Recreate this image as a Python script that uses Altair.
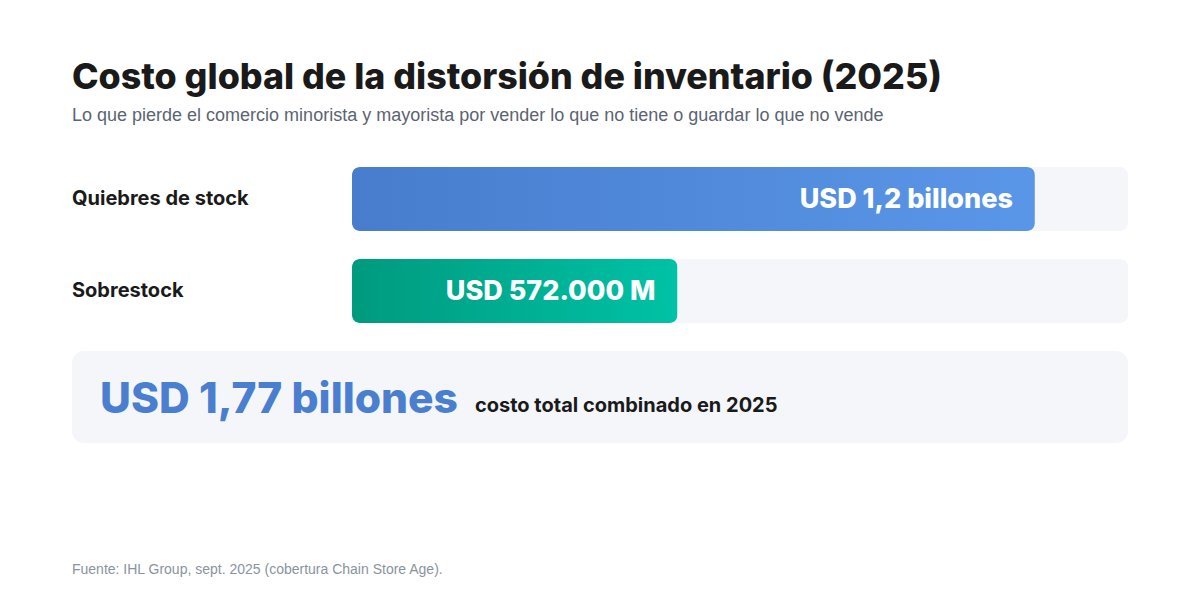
import altair as alt
import pandas as pd

categories = ["Quiebres de stock", "Sobrestock"]
values = [1.2, 0.572]  # USD billones (trillions)
value_labels = ["USD 1,2 billones", "USD 572.000 M"]
total_value = 1.77
total_label = "USD 1,77 billones"
total_caption = "costo total combinado en 2025"
title_text = "Costo global de la distorsión de inventario (2025)"
subtitle_text = "Lo que pierde el comercio minorista y mayorista por vender lo que no tiene o guardar lo que no vende"
source_text = "Fuente: IHL Group, sept. 2025 (cobertura Chain Store Age)."

x_max = values[0] / 0.88

df = pd.DataFrame({"cat": categories, "value": values, "label": value_labels, "track": [x_max] * len(categories)})

HEAD = "Inter"
BODY = "Liberation Sans"

xs = alt.Scale(domain=[0, x_max], range=[280, 1056], zero=True, nice=False)
ys = alt.Scale(type="point", domain=categories, range=[49, 141], padding=0)

base = alt.Chart(df)

track = base.mark_bar(size=64, cornerRadius=8, color="#f4f6fa").encode(
    x=alt.X("track:Q", scale=xs, axis=None),
    y=alt.Y("cat:N", scale=ys, axis=None),
)

grad_blue = alt.Gradient(
    gradient="linear",
    stops=[alt.GradientStop(color="#487dcd", offset=0), alt.GradientStop(color="#5a96e8", offset=1)],
    x1=0, x2=1, y1=0, y2=0,
)
grad_teal = alt.Gradient(
    gradient="linear",
    stops=[alt.GradientStop(color="#009a7e", offset=0), alt.GradientStop(color="#00c2a6", offset=1)],
    x1=0, x2=1, y1=0, y2=0,
)

bar1 = base.transform_filter(alt.datum.cat == categories[0]).mark_bar(size=64, cornerRadius=8, color=grad_blue).encode(
    x=alt.X("value:Q", scale=xs, axis=None),
    y=alt.Y("cat:N", scale=ys, axis=None),
)
bar2 = base.transform_filter(alt.datum.cat == categories[1]).mark_bar(size=64, cornerRadius=8, color=grad_teal).encode(
    x=alt.X("value:Q", scale=xs, axis=None),
    y=alt.Y("cat:N", scale=ys, axis=None),
)

vlabels = base.mark_text(align="right", baseline="middle", dx=-22, dy=1, font=HEAD, fontWeight=800, fontSize=27, color="white").encode(
    x=alt.X("value:Q", scale=xs, axis=None),
    y=alt.Y("cat:N", scale=ys, axis=None),
    text="label:N",
)

clabels = base.mark_text(align="left", baseline="middle", font=HEAD, fontWeight=700, fontSize=20, color="#1a1a1a").encode(
    x=alt.value(0),
    y=alt.Y("cat:N", scale=ys, axis=None),
    text="cat:N",
)

sdf = pd.DataFrame({"total": [total_value], "tl": [total_label], "cap": [total_caption], "src": [source_text]})
sbase = alt.Chart(sdf)

box = sbase.mark_rect(cornerRadius=12, color="#f4f6fa").encode(
    x=alt.value(0), x2=alt.value(1056), y=alt.value(201), y2=alt.value(293)
)
big = sbase.mark_text(align="left", baseline="alphabetic", font=HEAD, fontWeight=800, fontSize=42.5, color="#4a7fd0").encode(
    x=alt.value(28), y=alt.value(263), text="tl:N"
)
cap = sbase.mark_text(align="left", baseline="alphabetic", font=HEAD, fontWeight=700, fontSize=20, color="#1a1a1a").encode(
    x=alt.value(403), y=alt.value(262), text="cap:N"
)
src = sbase.mark_text(align="left", baseline="middle", font=BODY, fontSize=14, color="#8a93a0").encode(
    x=alt.value(0), y=alt.value(420), text="src:N"
)

chart = alt.layer(track, bar1, bar2, vlabels, clabels, box, big, cap, src).properties(
    width=1056,
    height=440,
    background="white",
    autosize=alt.AutoSizeParams(type="none"),
    padding={"left": 64, "top": 142, "right": 64, "bottom": 2},
    title=alt.TitleParams(
        text=title_text,
        subtitle=subtitle_text,
        anchor="start",
        frame="group",
        font=HEAD,
        fontSize=35.8,
        fontWeight=800,
        color="#1a1a1a",
        subtitleFont=BODY,
        subtitleFontSize=18,
        subtitleColor="#5b6472",
        subtitlePadding=10,
        offset=24,
    ),
).configure_view(stroke=None, strokeWidth=0)

chart.save("out.html", embed_options={"renderer": "svg", "actions": False})
